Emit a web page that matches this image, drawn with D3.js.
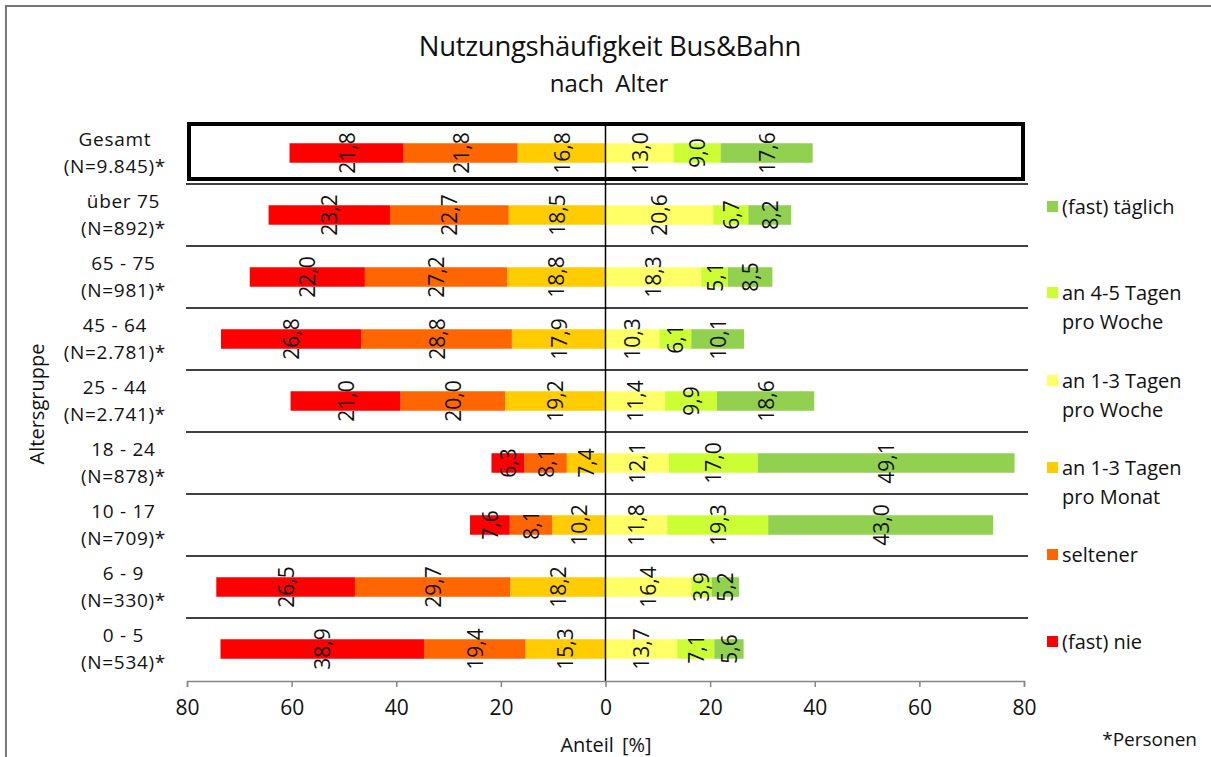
<!DOCTYPE html>
<html><head><meta charset="utf-8">
<script src="https://cdn.jsdelivr.net/npm/d3@7"></script>
<style>
body{margin:0;background:#fff;}
text{font-family:"Open Sans","Noto Sans",sans-serif;fill:#111;}
</style></head><body>
<svg id="c" width="1211" height="757"></svg>
<script>
const categories = ["Gesamt|(N=9.845)*","über  75|(N=892)*","65  -  75|(N=981)*","45  -  64|(N=2.781)*","25  -  44|(N=2.741)*","18  -  24|(N=878)*","10  -  17|(N=709)*","6  -  9|(N=330)*","0  -  5|(N=534)*"];
const seriesNames = ["(fast)  nie","seltener","an  1-3  Tagen|pro  Monat","an  1-3  Tagen|pro  Woche","an  4-5  Tagen|pro  Woche","(fast)  täglich"];
const colors = ["#FF0000","#FF6600","#FFCC00","#FFFF66","#CCFF33","#92D050"];
const fastNie   = [21.8,23.2,22.0,26.8,21.0,6.3,7.6,26.5,38.9];
const seltener  = [21.8,22.7,27.2,28.8,20.0,8.1,8.1,29.7,19.4];
const proMonat  = [16.8,18.5,18.8,17.9,19.2,7.4,10.2,18.2,15.3];
const proWoche13= [13.0,20.6,18.3,10.3,11.4,12.1,11.8,16.4,13.7];
const proWoche45= [9.0,6.7,5.1,6.1,9.9,17.0,19.3,3.9,7.1];
const taeglich  = [17.6,8.2,8.5,10.1,18.6,49.1,43.0,5.2,5.6];
const xTicks = [-80,-60,-40,-20,0,20,40,60,80];
const series = [fastNie,seltener,proMonat,proWoche13,proWoche45,taeglich];

const svg = d3.select("#c");
// outer frame
svg.append("rect").attr("x",6).attr("y",6).attr("width",1250).attr("height",800)
  .attr("fill","none").attr("stroke","#767676").attr("stroke-width",2);

const x = d3.scaleLinear().domain([-80,80]).range([187,1024]);
const y = d3.scaleBand().domain(categories).range([122,680]).paddingInner(0);
const barH = 19.5;

// title
svg.append("text").attr("x",610).attr("y",56).attr("text-anchor","middle")
  .style("font-size","27.5px").style("letter-spacing","-0.3px").text("Nutzungshäufigkeit Bus&Bahn");
svg.append("text").attr("x",609).attr("y",92).attr("text-anchor","middle")
  .style("font-size","24px").style("word-spacing","5px").text("nach  Alter");

// separators
const sepG = svg.append("g");
categories.forEach((c,i)=>{
  if(i>0){
    sepG.append("line").attr("x1",186).attr("x2",1028)
      .attr("y1",y(c)).attr("y2",y(c)).attr("stroke","#000").attr("stroke-width",1.5);
  }
});

// segments
const rows = categories.map((c,i)=>{
  const segs=[];
  let pos=0;
  [2,1,0].forEach(k=>{ const v=series[k][i]; segs.push({k,v,x0:pos-v,x1:pos}); pos-=v; });
  pos=0;
  [3,4,5].forEach(k=>{ const v=series[k][i]; segs.push({k,v,x0:pos,x1:pos+v}); pos+=v; });
  return {c,segs};
});
const fmt = v=>d3.format(".1f")(v).replace(".",",");
const barG = svg.append("g");
rows.forEach(r=>{
  const cy = y(r.c)+y.bandwidth()/2;
  r.segs.forEach(s=>{
    barG.append("rect").attr("x",x(s.x0)).attr("y",cy-barH/2)
      .attr("width",x(s.x1)-x(s.x0)).attr("height",barH).attr("fill",colors[s.k]);
  });
});
rows.forEach(r=>{
  const cy = y(r.c)+y.bandwidth()/2;
  r.segs.forEach(s=>{
    const cx = (x(s.x0)+x(s.x1))/2;
    barG.append("text").attr("transform",`translate(${cx},${cy}) rotate(-90)`)
      .attr("text-anchor","middle").attr("dominant-baseline","central")
      .style("font-size","21px").text(fmt(s.v));
  });
});

// zero line
svg.append("line").attr("x1",x(0)).attr("x2",x(0)).attr("y1",122).attr("y2",681)
  .attr("stroke","#000").attr("stroke-width",1.5);

// Gesamt box
svg.append("rect").attr("x",189).attr("y",124).attr("width",834).attr("height",55)
  .attr("fill","none").attr("stroke","#000").attr("stroke-width",4);

// x axis
const xAxis = d3.axisBottom(x).tickValues(xTicks).tickSize(6).tickPadding(13).tickFormat(d=>Math.abs(d));
const ax = svg.append("g").attr("transform","translate(0,681)").call(xAxis);
ax.select(".domain").attr("stroke","#868686").attr("stroke-width",1.5);
ax.selectAll(".tick line").attr("stroke","#868686").attr("stroke-width",1.5);
ax.selectAll(".tick text").style("font-size","21px").style("font-family",'"Open Sans","Noto Sans",sans-serif').attr("fill","#111");

svg.append("text").attr("x",606).attr("y",752).attr("text-anchor","middle")
  .style("font-size","20px").style("word-spacing","3px").text("Anteil  [%]");
svg.append("text").attr("x",1197).attr("y",746).attr("text-anchor","end")
  .style("font-size","19px").text("*Personen");

// y axis title
svg.append("text").attr("transform","translate(36,404) rotate(-90)")
  .attr("text-anchor","middle").attr("dominant-baseline","central")
  .style("font-size","20px").text("Altersgruppe");

// category labels (one text element, two centred lines)
const labG = svg.append("g");
categories.forEach(c=>{
  const lines=c.split("|");
  const cy = y(c)+y.bandwidth()/2;
  const t = labG.append("text").attr("text-anchor","middle")
     .style("font-size","19px").style("letter-spacing","0.7px");
  const ts = lines.map((l,j)=> t.append("tspan").attr("y",cy+(j-0.5)*26.5+6.5).text(l));
  const w = d3.max(ts,s=>s.node().getComputedTextLength());
  ts.forEach(s=>s.attr("x",166-w/2));
});

// legend (top to bottom: täglich ... nie)
const legY = [207,293,381,468,555,642];
const legOrder = [5,4,3,2,1,0];
legOrder.forEach((k,i)=>{
  const lines = seriesNames[k].split("|");
  const yy = legY[i];
  svg.append("rect").attr("x",1047).attr("y",yy-6).attr("width",11).attr("height",11).attr("fill",colors[k]);
  const t = svg.append("text").style("font-size","20px");
  lines.forEach((l,j)=>{
    t.append("tspan").attr("x",1062).attr("y",yy+j*29+7).text(l);
  });
});
</script></body></html>
